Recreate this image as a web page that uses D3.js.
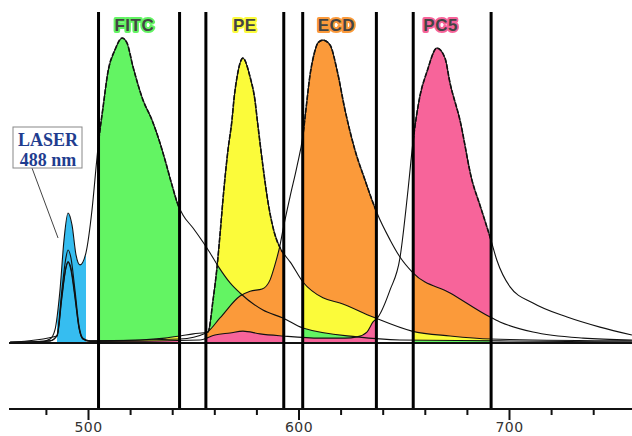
<!DOCTYPE html>
<html><head><meta charset="utf-8">
<script src="https://cdn.jsdelivr.net/npm/d3@7"></script>
<style>body{margin:0;background:#fff}svg{display:block}</style>
</head><body>
<script>
const W = 632, H = 436;

// Emission spectra, [wavelength nm, relative intensity %], incl. 488 nm scatter
const fitc = [[463,0.2],[477,0.3],[482,1.3],[484.3,4.3],[486.7,17.4],[488.6,33.8],[490.5,42.6],[492.4,38.7],[494.3,28.9],[496.2,25.6],[499,29.5],[501.9,43.6],[504.3,61],[505.2,67],[507.1,77],[509.5,89],[512.8,96.1],[516.2,100],[518.5,98.4],[521.4,90.5],[526.1,79.7],[530.4,73.1],[534.2,65.6],[536.6,60],[539.9,51.8],[542.8,45.2],[545.1,42],[549.9,37.7],[554.6,33.1],[558,29.5],[561.8,25.2],[567.5,19.7],[572.2,16.4],[583.1,10.8],[592.6,8.2],[602.1,4.9],[627.8,2.0],[648.2,1.0],[695.7,0.7],[758.4,0.3]];
const pe = [[463,0.2],[482,0.7],[485.3,2.6],[487.6,17.4],[489.5,27.9],[490.5,30.5],[491.9,27.9],[493.8,17.4],[495.7,5.9],[497.6,1.6],[501,0.7],[524.7,1.0],[536.6,1.6],[543.7,2.3],[550,3.0],[557,3.6],[559.4,14.1],[561.3,24.9],[562.7,35.4],[564.1,46.9],[566.5,63.3],[568.4,73.1],[569.4,80.3],[570.8,87.2],[573.6,93.4],[577,87.2],[579.3,79.7],[580.6,72],[583.1,58],[585.8,45],[588.6,36],[591.4,31],[593.3,29],[596,26.6],[602.1,20.0],[611.6,14.8],[619.7,13.1],[635.4,8.5],[653.9,3.9],[672,2.3],[691.4,1.3],[758.4,0.7]];
const ecd = [[463,0.2],[482,0.7],[485.3,2.3],[487.6,15.7],[489.5,24.6],[490.5,26.6],[491.9,24.6],[493.8,15.7],[495.7,5.2],[497.6,1.3],[501,0.7],[543.7,1.3],[556.1,3.3],[562.7,8.2],[572.2,15.4],[577,17.0],[582.7,17.7],[586.5,20.7],[588.8,25.6],[591.2,32],[592.6,37],[596,48],[599.3,58],[602.1,68],[603.6,77],[605.5,88],[607.5,95],[609.3,98.5],[611.6,99.3],[615,97.7],[618.3,89.5],[622.1,76.4],[626.8,63.3],[631.6,53.4],[634.9,46.9],[637.3,42.6],[643.5,33.8],[648.2,28.2],[654.4,23.0],[672,16.4],[691,8.5],[695.7,6.9],[711.4,3.6],[735.2,1.6],[758.4,1.0]];
const pc5 = [[463,0.2],[485.3,2.3],[487.6,14.8],[489.5,24.6],[490.5,26.6],[491.9,23.9],[493.8,14.8],[495.7,4.9],[497.6,1.3],[501,0.5],[553.2,1.0],[560.3,2.6],[567.5,3.3],[573.6,3.9],[581.7,3.0],[592.6,2.3],[610.2,1.6],[622.1,1.6],[627.8,2.0],[632.5,3.6],[635.4,6.9],[637.8,8.5],[643.5,17.4],[648.2,27.9],[652,50],[654.4,66],[657.7,81],[661,88.9],[665.8,96.7],[669.6,93.4],[672,85.2],[676.7,73.1],[682.4,53.4],[686.2,45.2],[691.4,33.8],[694.2,27.2],[700.5,18.4],[711.4,13.1],[727.6,8.5],[743.2,5.2],[758.4,2.6]];

const dyeNames  = ["FITC", "PE", "ECD", "PC5"];
const dyeColors = ["#63f463", "#fbfb3a", "#fb9a3a", "#f7649a"];
const labelWl   = [522, 574.5, 618, 667.5];
const spectra   = [fitc, pe, ecd, pc5];

// Band-pass filter of each detector [low, high] nm (same order as the dyes)
const filterBands = [[505, 543.5], [556, 593], [602, 637], [654.5, 691.5]];
const laserBand = [485.3, 499];
const laserColor = "#36bdf0";
const laserLabel = ["LASER", "488 nm"];

const tickMajor = [500, 600, 700];
const tickMinor = [480, 520, 540, 560, 580, 620, 640, 660, 680, 720, 740];

const x = d3.scaleLinear().domain([500, 700]).range([88, 509]);
const y = d3.scaleLinear().domain([0, 100]).range([343, 38]);
const baseY = y(0), axisY = 409, lineTop = 12;

const curve = d3.curveMonotoneX;
const line = d3.line().x(d => x(d[0])).y(d => y(d[1])).curve(curve);
const area = d3.area().x(d => x(d[0])).y0(baseY).y1(d => y(d[1])).curve(curve);

function valueAt(s, wl) {
  const i = d3.bisector(d => d[0]).left(s, wl);
  if (i <= 0) return s[0][1];
  if (i >= s.length) return s[s.length - 1][1];
  const a = s[i - 1], b = s[i];
  return a[1] + (b[1] - a[1]) * (wl - a[0]) / (b[0] - a[0]);
}

const svg = d3.select("body").append("svg").attr("width", W).attr("height", H);
const defs = svg.append("defs");
defs.append("filter").attr("id", "glow").attr("x", "-20%").attr("y", "-40%").attr("width", "140%").attr("height", "180%")
  .append("feGaussianBlur").attr("stdDeviation", 0.7);

// Coloured detector windows: area under the detector's own dye, split by the
// share of the other dyes' spectra inside that window
const fills = svg.append("g");
function bandFill(idx, band, order, colors) {
  const id = "band" + idx;
  defs.append("clipPath").attr("id", id + "r").append("rect")
    .attr("x", x(band[0])).attr("y", 0).attr("width", x(band[1]) - x(band[0])).attr("height", baseY);
  defs.append("clipPath").attr("id", id + "a").append("path").attr("d", area(spectra[order[0]]));
  const g = fills.append("g").attr("clip-path", `url(#${id}r)`)
    .append("g").attr("clip-path", `url(#${id}a)`);
  order.forEach((k, j) => {
    g.append("path").attr("d", area(spectra[k])).attr("fill", colors ? colors[j] : dyeColors[k]);
  });
  return id;
}
bandFill("L", laserBand, [0], [laserColor]);
const bandIds = filterBands.map((band, i) => {
  const others = d3.range(4).filter(k => k !== i)
    .sort((a, b) => valueAt(spectra[b], band[0]) - valueAt(spectra[a], band[0]));
  return bandFill(i, band, [i].concat(others));
});

// Spectrum outlines
svg.append("g").selectAll("path").data(spectra).join("path")
  .attr("d", line).attr("fill", "none").attr("stroke", "#111").attr("stroke-width", 1.1);
// heavier broken edge where a dye bounds its own window
svg.append("g").selectAll("path").data(spectra).join("path")
  .attr("clip-path", (d, i) => `url(#${bandIds[i]}r)`)
  .attr("d", line).attr("fill", "none").attr("stroke", "#111").attr("stroke-width", 1.6)
  .attr("stroke-dasharray", "5,1.5");

// Baseline
svg.append("line").attr("x1", 9).attr("x2", W).attr("y1", baseY).attr("y2", baseY)
  .attr("stroke", "#111").attr("stroke-width", 2);

// Filter edges
svg.append("g").selectAll("line").data(filterBands.flat()).join("line")
  .attr("x1", d => x(d)).attr("x2", d => x(d)).attr("y1", lineTop).attr("y2", axisY)
  .attr("stroke", "#000").attr("stroke-width", 3);

// Wavelength axis
svg.append("line").attr("x1", 9).attr("x2", W).attr("y1", axisY).attr("y2", axisY)
  .attr("stroke", "#111").attr("stroke-width", 2);
const gMin = svg.append("g").attr("transform", `translate(0,${axisY})`)
  .call(d3.axisBottom(x).tickValues(tickMinor).tickSize(6).tickFormat(""));
gMin.select(".domain").remove();
gMin.selectAll("line").attr("stroke", "#111").attr("stroke-width", 2);
const gMaj = svg.append("g").attr("transform", `translate(0,${axisY})`)
  .call(d3.axisBottom(x).tickValues(tickMajor).tickSize(11).tickPadding(2).tickFormat(d3.format("d")));
gMaj.select(".domain").remove();
gMaj.selectAll("line").attr("stroke", "#111").attr("stroke-width", 2);
gMaj.selectAll("text").attr("font-family", "DejaVu Sans, Verdana, sans-serif").attr("font-size", 14)
  .attr("letter-spacing", 0.5).attr("fill", "#333");

// Dye names over their detector windows
const lab = svg.append("g").selectAll("g").data(dyeNames).join("g")
  .attr("transform", (d, i) => `translate(${x(labelWl[i])},31)`);
const labFont = t => t.attr("text-anchor", "middle")
  .attr("font-family", "Liberation Sans, Arial, sans-serif").attr("font-weight", "bold")
  .attr("font-size", 17).attr("letter-spacing", 0.5);
lab.append("text").text(d => d).call(labFont)
  .attr("fill", "none").attr("stroke", (d, i) => dyeColors[i]).attr("stroke-width", 4).attr("stroke-linejoin", "round")
  .attr("filter", "url(#glow)");
lab.append("text").text(d => d).call(labFont).attr("fill", "#444");

// Laser annotation
svg.append("line").attr("x1", 32).attr("y1", 168).attr("x2", x(laserBand[0]) + 1).attr("y2", 238)
  .attr("stroke", "#444").attr("stroke-width", 1);
svg.append("rect").attr("x", 13).attr("y", 127).attr("width", 69).attr("height", 41)
  .attr("fill", "#fff").attr("stroke", "#888").attr("stroke-width", 1);
svg.append("g").selectAll("text").data(laserLabel).join("text")
  .attr("x", 48).attr("y", (d, i) => 146 + i * 20).attr("text-anchor", "middle")
  .attr("font-family", "Liberation Serif, Times New Roman, serif").attr("font-weight", "bold").attr("font-size", 18)
  .attr("fill", "#1f3d8f").text(d => d);
</script>
</body></html>
